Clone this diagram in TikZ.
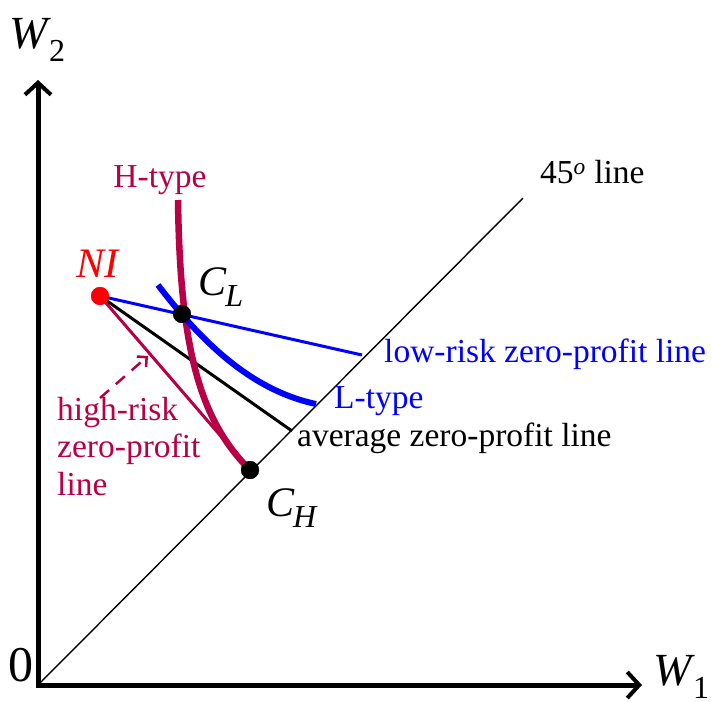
\documentclass[tikz,border=0pt]{standalone}
\usepackage{fontspec}
\setmainfont{Liberation Serif}
\usetikzlibrary{arrows.meta}
\definecolor{crim}{RGB}{185,0,70}
\definecolor{lblue}{RGB}{0,0,255}
\newcommand{\lbl}[2]{\textit{#1}\kern-0.04em\raisebox{-0.28em}{\fontsize{32}{32}\selectfont #2}}
\begin{document}
\begin{tikzpicture}[x=1pt,y=-1pt,
  axis/.style={line width=5pt,-{Straight Barb[length=12pt,width=26pt,line width=4pt]}},
  txt/.style={font=\fontsize{33.5}{37}\selectfont,inner sep=0pt},
  big/.style={font=\fontsize{46}{50}\selectfont,inner sep=0pt},
  dotn/.style={circle,fill,inner sep=0pt,minimum size=18pt}]
\useasboundingbox (0,0) rectangle (713,702);
\coordinate (O) at (38,685);
\coordinate (ytop) at (38,80);
\coordinate (xend) at (642,685);
\coordinate (d45) at (523,198);
\draw[line width=1.4pt] (O) -- (d45);
% lines from NI
\node[dotn,fill=red] (NI) at (100,296) {};
\node[dotn] (CL) at (182,314) {};
\node[dotn] (CH) at (250,470) {};
\coordinate (lowend) at (362,355);
\coordinate (avgend) at (292,431);
\draw[lblue,line width=3pt] (NI.center) -- (lowend);
\draw[black,line width=3pt] (NI.center) -- (avgend);
\draw[crim,line width=3pt] (NI.center) -- (CH.center);
% curves
\draw[crim,line width=6.5pt] (178,200) .. controls (180,350) and (200,420) .. (CH.center);
\draw[lblue,line width=6pt] (158,285) .. controls (200,340) and (250,390) .. (316,404);
% redraw dots on top
\node[dotn,fill=red] at (NI) {};
\node[dotn] at (CL) {};
\node[dotn] at (CH) {};
% axes
\draw[axis] (O) -- (ytop);
\draw[axis] ([xshift=-2.5pt]O) -- (xend);
% dashed arrow
\coordinate (da) at (100,398);
\coordinate (db) at (148,356);
\draw[crim,line width=2.5pt,dash pattern=on 12pt off 9pt,-{Straight Barb[length=7pt,width=14pt,line width=2.5pt]}] (da) -- (db);
% labels
\node[big,anchor=west] (W2) at (9,40) {\lbl{W}{2}};
\node[big,anchor=west] (W1) at (653,677) {\lbl{W}{1}};
\node[font=\fontsize{50}{50}\selectfont,inner sep=0pt] (zero) at (21,665) {0};
\node[txt,anchor=west] (l45) at (540,172) {45\textsuperscript{\textit{o}} line};
\node[txt,text=crim] (Ht) at (160,180) {H-type};
\node[font=\fontsize{42}{44}\selectfont,inner sep=0pt,text=red] (NIl) at (98,264) {\textit{NI}};
\node[font=\fontsize{42}{44}\selectfont,inner sep=0pt] (CLl) at (221,287) {\lbl{C}{\textit{L}}};
\node[font=\fontsize{42}{44}\selectfont,inner sep=0pt] (CHl) at (292,508) {\lbl{C}{\textit{H}}};
\node[txt,text=lblue,anchor=west] (lowl) at (384,354) {low-risk zero-profit line};
\node[txt,text=lblue,anchor=west] (Ll) at (334,401) {L-type};
\node[txt,anchor=west] (avgl) at (297,438) {average zero-profit line};
\node[txt,text=crim,anchor=north west,align=left,font=\fontsize{33.5}{37.5}\selectfont] (hr) at (57,397) {high-risk\\zero-profit\\line};
\end{tikzpicture}
\end{document}
